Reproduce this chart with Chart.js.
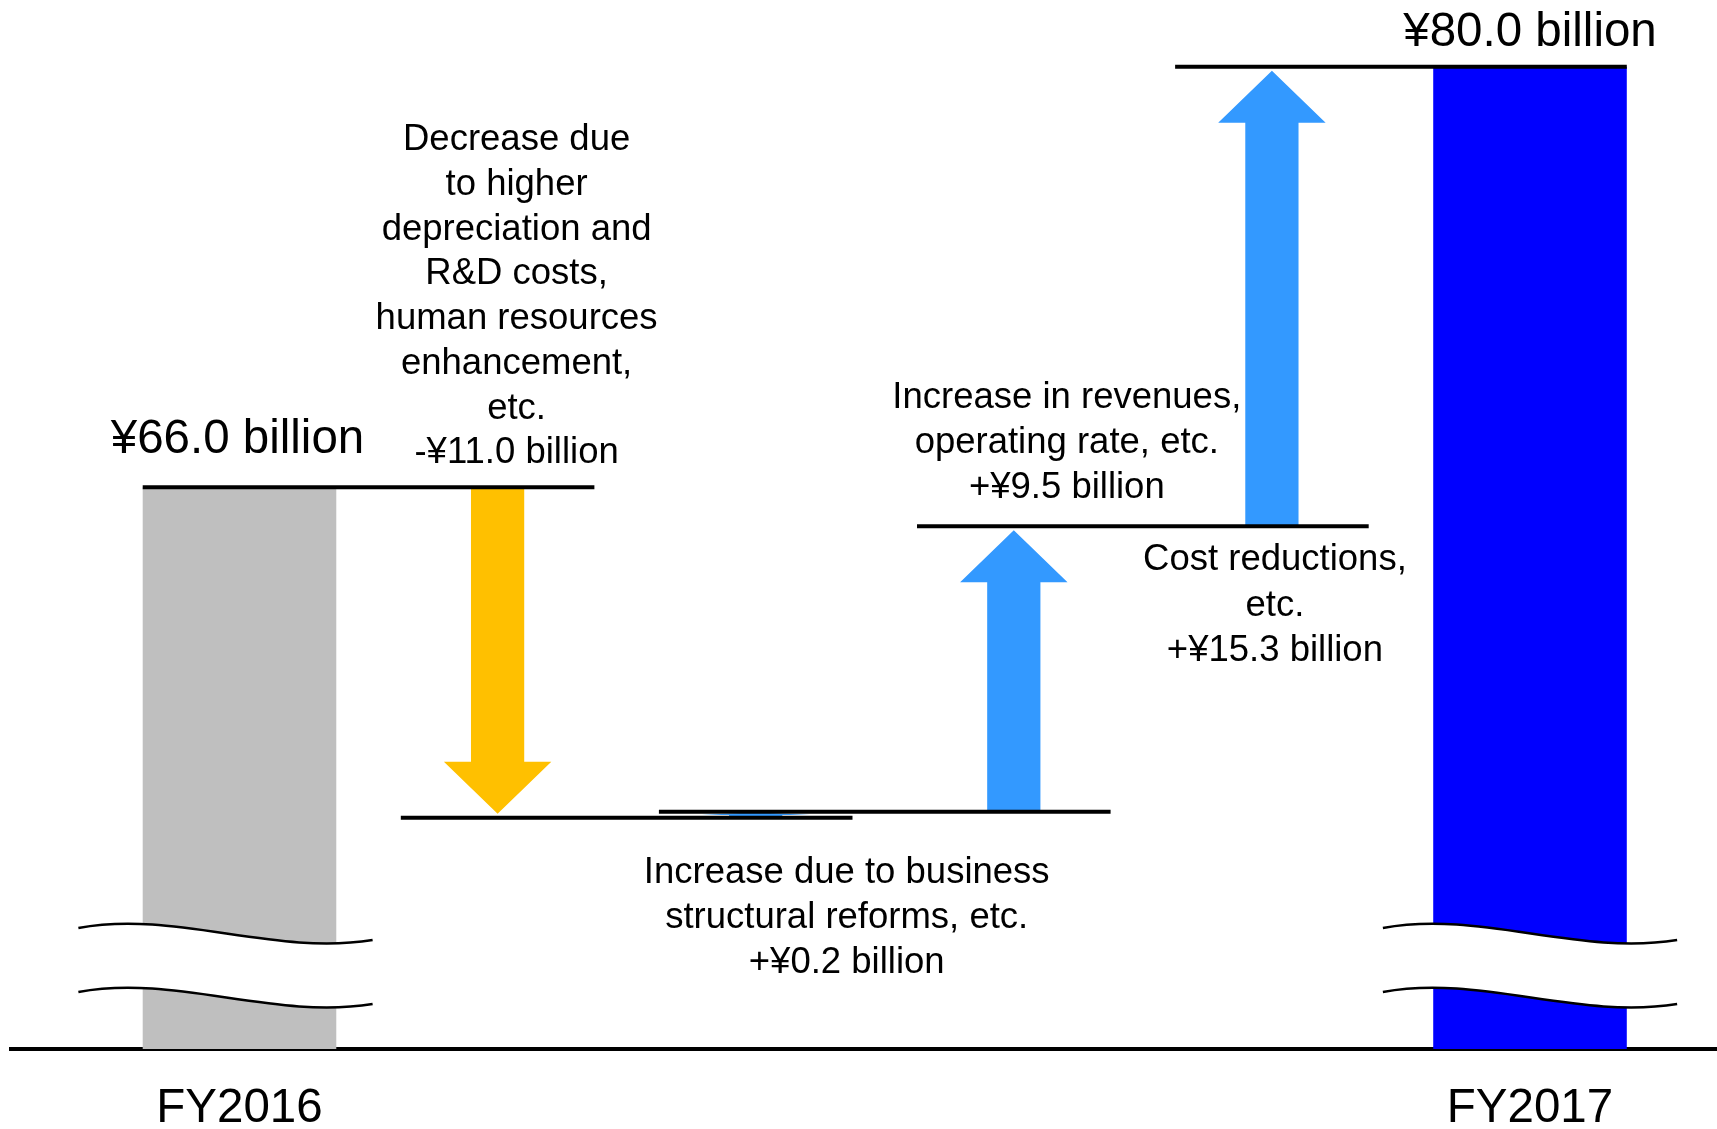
<!DOCTYPE html>
<html>
<head>
<meta charset="utf-8">
<script src="https://cdn.jsdelivr.net/npm/chart.js@4.4.1/dist/chart.umd.min.js"></script>
<style>
html,body{margin:0;padding:0;background:#fff;overflow:hidden}
#wrap{width:1717px;height:1129px;position:relative}
</style>
</head>
<body>
<div id="wrap"><canvas id="c" width="1717" height="1129"></canvas></div>
<script>
// ---------- data ----------
const categories = ['FY2016', 'Decrease', 'Structural reforms', 'Revenues', 'Cost reductions', 'FY2017'];
const startTotal = 66.0;
const endTotal = 80.0;
const stepValues = [-11.0, 0.2, 9.5, 15.3];
const totalLabels = ['¥66.0 billion', '¥80.0 billion'];
const stepLabels = [
  ['Decrease due', 'to higher', 'depreciation and', 'R&D costs,', 'human resources', 'enhancement,', 'etc.', '-¥11.0 billion'],
  ['Increase due to business', 'structural reforms, etc.', '+¥0.2 billion'],
  ['Increase in revenues,', 'operating rate, etc.', '+¥9.5 billion'],
  ['Cost reductions,', 'etc.', '+¥15.3 billion']
];
const axisLabels = ['FY2016', 'FY2017'];

// ---------- derived ----------
const levels = [startTotal];
stepValues.forEach(v => levels.push(Math.round((levels[levels.length - 1] + v) * 10) / 10));
const lastIdx = categories.length - 1;
const totalData = [{x: 0, y: startTotal}, {x: lastIdx, y: endTotal}];
const stepData = stepValues.map((v, i) => ({x: i + 1, y: [levels[i], levels[i + 1]]}));

// ---------- styles ----------
const FONT = "'Liberation Sans', Arial, Helvetica, sans-serif";
const GRAY = '#BFBFBF', BAR_BLUE = '#0000FF', ORANGE = '#FFC000', ARROW_BLUE = '#3399FF';
const Y_MIN = 47.3, Y_MAX = 82.22;
const X_MIN = -0.8853, X_MAX = 5.7245;

const deco = {
  id: 'deco',
  afterDatasetsDraw(chart) {
    const ctx = chart.ctx;
    const ys = chart.scales.y;
    const area = chart.chartArea;
    const tot = chart.getDatasetMeta(0).data;
    const stp = chart.getDatasetMeta(1).data;
    const col = i => (i === 0 ? tot[0] : (i === lastIdx ? tot[1] : stp[i - 1]));
    const lv = v => ys.getPixelForValue(v);

    ctx.save();
    // axis break marks on the total bars
    tot.forEach((el, k) => {
      const w = el.width * 1.52, x0 = el.x - w / 2 - (k === 0 ? 14 : 0);
      const c1 = area.bottom - 121, c2 = area.bottom - 57;
      const curve = (y0, rev) => {
        if (!rev) {
          ctx.bezierCurveTo(x0 + 0.33 * w, y0 - 18, x0 + 0.66 * w, y0 + 28, x0 + w, y0 + 12);
        } else {
          ctx.bezierCurveTo(x0 + 0.66 * w, y0 + 28, x0 + 0.33 * w, y0 - 18, x0, y0);
        }
      };
      ctx.beginPath();
      ctx.moveTo(x0, c1);
      curve(c1, false);
      ctx.lineTo(x0 + w, c2 + 12);
      curve(c2, true);
      ctx.closePath();
      ctx.fillStyle = '#fff';
      ctx.fill();
      ctx.strokeStyle = '#000';
      ctx.lineWidth = 2.5;
      [c1, c2].forEach(y0 => {
        ctx.beginPath();
        ctx.moveTo(x0, y0);
        curve(y0, false);
        ctx.stroke();
      });
    });

    // arrows for the steps
    stp.forEach((el, i) => {
      const from = lv(levels[i]), to = lv(levels[i + 1]);
      const dir = to < from ? -1 : 1;
      const gap = Math.min(4, Math.abs(to - from) * 0.1);
      const tip = to - dir * gap;
      const len = Math.abs(tip - from);
      const headH = Math.min(52, len * 0.5);
      const shaftW = el.width * 0.275, headW = el.width * 0.555;
      const hb = tip - dir * headH;
      ctx.fillStyle = stepValues[i] < 0 ? ORANGE : ARROW_BLUE;
      ctx.beginPath();
      ctx.moveTo(el.x - shaftW / 2, from);
      ctx.lineTo(el.x - shaftW / 2, hb);
      ctx.lineTo(el.x - headW / 2, hb);
      ctx.lineTo(el.x, tip);
      ctx.lineTo(el.x + headW / 2, hb);
      ctx.lineTo(el.x + shaftW / 2, hb);
      ctx.lineTo(el.x + shaftW / 2, from);
      ctx.closePath();
      ctx.fill();
    });

    // level connector lines
    ctx.strokeStyle = '#000';
    ctx.lineWidth = 4;
    ctx.lineCap = 'butt';
    levels.forEach((v, i) => {
      const a = col(i), b = col(i + 1);
      const y = lv(v);
      ctx.beginPath();
      ctx.moveTo(a.x - a.width / 2, y);
      ctx.lineTo(b.x + b.width / 2, y);
      ctx.stroke();
    });

    // texts
    ctx.fillStyle = '#000';
    ctx.textAlign = 'center';
    ctx.textBaseline = 'alphabetic';
    ctx.font = '47.5px ' + FONT;
    ctx.fillText(totalLabels[0], col(0).x - 2, lv(startTotal) - 34);
    ctx.fillText(totalLabels[1], col(lastIdx).x, lv(endTotal) - 21);

    ctx.font = '36.5px ' + FONT;
    const block = (lines, cx, firstBase, sp) => lines.forEach((t, k) => ctx.fillText(t, cx, firstBase + k * sp));
    block(stepLabels[0], col(1).x + 19, lv(levels[0]) - 24 - 7 * 44.7, 44.7);
    block(stepLabels[1], col(2).x + 91, lv(levels[1]) + 65, 45);
    block(stepLabels[2], col(3).x + 53, lv(levels[3]) - 28 - 2 * 45, 45);
    block(stepLabels[3], col(4).x + 3, lv(levels[3]) + 44, 45.5);
    ctx.restore();
  }
};

new Chart(document.getElementById('c'), {
  type: 'bar',
  data: {
    datasets: [
      {
        label: 'Totals',
        data: totalData,
        backgroundColor: [GRAY, BAR_BLUE],
        base: Y_MIN,
        grouped: false,
        borderWidth: 0,
        barPercentage: 0.75,
        categoryPercentage: 1.0
      },
      {
        label: 'Steps',
        data: stepData,
        backgroundColor: 'rgba(0,0,0,0)',
        grouped: false,
        borderWidth: 0,
        barPercentage: 0.75,
        categoryPercentage: 1.0
      }
    ]
  },
  options: {
    responsive: false,
    devicePixelRatio: 1,
    animation: false,
    events: [],
    layout: {padding: {left: 11, right: 0, top: 0, bottom: -40}},
    plugins: {legend: {display: false}, tooltip: {enabled: false}},
    scales: {
      x: {
        type: 'linear',
        offset: false,
        min: X_MIN,
        max: X_MAX,
        z: 1,
        grid: {display: false, drawTicks: false, offset: false},
        border: {display: true, color: '#000', width: 4},
        afterBuildTicks: s => { s.ticks = [{value: 0}, {value: lastIdx}]; },
        ticks: {
          padding: 14,
          maxRotation: 0,
          autoSkip: false,
          color: '#000',
          font: {family: FONT, size: 47.5, lineHeight: 92 / 47.5},
          callback: v => (v === 0 ? axisLabels[0] : axisLabels[1])
        }
      },
      y: {
        type: 'linear',
        display: false,
        min: Y_MIN,
        max: Y_MAX,
        stacked: false
      }
    }
  },
  plugins: [deco]
});
</script>
</body>
</html>
